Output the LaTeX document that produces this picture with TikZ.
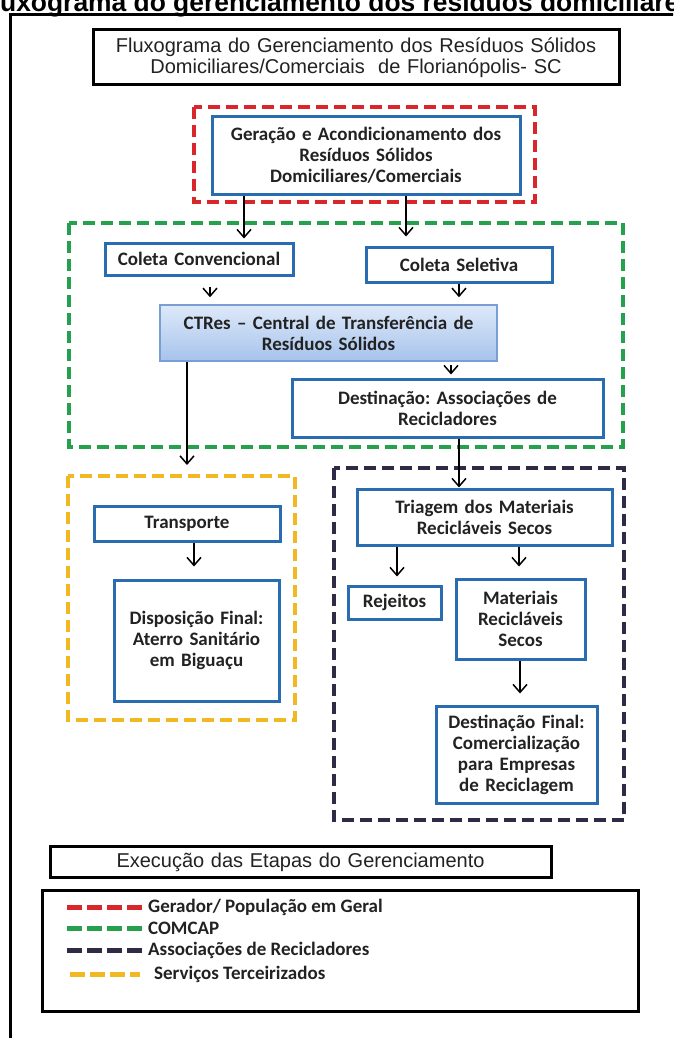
\documentclass[tikz,border=0pt]{standalone}
\usepackage{fontspec}
\setmainfont{Carlito}
\newfontfamily\arialfont{Liberation Sans}
\usetikzlibrary{arrows.meta,calc}
\frenchspacing
\definecolor{boxblue}{RGB}{42,108,176}
\definecolor{dashred}{RGB}{217,38,43}
\definecolor{dashgreen}{RGB}{37,160,76}
\definecolor{dashdark}{RGB}{46,43,71}
\definecolor{dashyellow}{RGB}{242,184,36}
\definecolor{txt}{RGB}{34,34,34}
\definecolor{ctrtop}{RGB}{222,233,249}
\definecolor{ctrbot}{RGB}{166,195,236}
\definecolor{ctredge}{RGB}{120,158,212}

\begin{document}
\begin{tikzpicture}[x=1pt,y=-1pt,
    blubox/.style={draw=boxblue,line width=3pt,text=txt,align=center,inner sep=0pt,
      font=\bfseries\fontsize{19}{21}\selectfont},
    blkbox/.style={draw=black,line width=3pt,text=txt,align=center,inner sep=0pt,
      font=\arialfont\fontsize{20}{21}\selectfont},
    grp/.style={line width=4pt,dash pattern=on 12pt off 6pt},
    leg/.style={line width=5pt,dash pattern=on 15pt off 5pt},
    >={Straight Barb[length=8pt,width=14pt]},
    arr/.style={->,line width=1.5pt}]
        \useasboundingbox (0,0) rectangle (673,1038);
        \clip (0,0) rectangle (673,1038);
        \fill[white] (0,0) rectangle (673,1038);
        % cut heading and outer frame
        \node[anchor=base west,inner sep=0pt,font=\arialfont\bfseries\fontsize{26.4}{28}\selectfont] (Z) at (-23.5,12) {Fluxograma do gerenciamento dos resíduos domiciliares};
        \draw[line width=3pt] (10,1040) -- (10,15) -- (680,15);
        \node[blkbox,text width=526pt,minimum height=55pt] (T) at (356,57.5) {Fluxograma do Gerenciamento dos Resíduos Sólidos\\Domiciliares/Comerciais\ \ de Florianópolis- SC};
        % groups
        \draw[grp,dashred] (194,107) rectangle (535,202);
        \draw[grp,dashgreen] (69,223) rectangle (623,447);
        \draw[grp,dashyellow] (68,476) rectangle (295,720);
        \draw[grp,dashdark] (334,468) rectangle (624,820);
        % steps
        \node[blubox,text width=308pt,minimum height=77pt] (A) at (366,155.5) {Geração e Acondicionamento dos\\Resíduos Sólidos\\Domiciliares/Comerciais};
        \node[blubox,text width=188pt,minimum height=32pt] (B) at (199,259) {Coleta Convencional};
        \node[blubox,text width=186pt,minimum height=35pt] (C) at (459,264.5) {Coleta Seletiva};
        \node[draw=ctredge,line width=1.5pt,top color=ctrtop,bottom color=ctrbot,text=txt,align=center,inner sep=0pt,
          font=\bfseries\fontsize{19}{21}\selectfont,text width=337pt,minimum height=56pt] (D) at (328.5,333) {CTRes – Central de Transferência de\\Resíduos Sólidos};
        \node[blubox,text width=311pt,minimum height=58pt] (E) at (447.5,408) {Destinação: Associações de\\Recicladores};
        \node[blubox,text width=186pt,minimum height=35pt] (F) at (187,523.5) {Transporte};
        \node[blubox,text width=165pt,minimum height=121pt] (G) at (196.5,640.5) {Disposição Final:\\Aterro Sanitário\\em Biguaçu};
        \node[blubox,text width=255pt,minimum height=56pt] (H) at (484.5,517) {Triagem dos Materiais\\Recicláveis Secos};
        \node[blubox,text width=93pt,minimum height=33pt] (I) at (394.5,602.5) {Rejeitos};
        \node[blubox,text width=129pt,minimum height=80pt] (J) at (520.5,619) {Materiais\\Recicláveis\\Secos};
        \node[blubox,text width=161pt,minimum height=97pt] (K) at (516.5,754.5) {Destinação Final:\\Comercialização\\para Empresas\\de Reciclagem};
        \coordinate (P) at (187,465);
        % flow
        \draw[arr,shorten >=3pt] (244,0 |- A.south) -- (244,0 |- B.north);
        \draw[arr,shorten >=9pt] (406,0 |- A.south) -- (406,0 |- C.north);
        \draw[arr,shorten <=10pt,shorten >=7pt] (210,0 |- B.south) -- (210,0 |- D.north);
        \draw[arr,shorten >=7pt] (459,0 |- C.south) -- (459,0 |- D.north);
        \draw[arr,shorten <=3pt,shorten >=3pt] (451,0 |- D.south) -- (451,0 |- E.north);
        \draw[arr] (187,0 |- D.south) -- (P);
        \draw[arr] (459,0 |- E.south) -- (459,0 |- H.north);
        \draw[arr,shorten >=12pt] (194,0 |- F.south) -- (194,0 |- G.north);
        \draw[arr,shorten >=8pt] (397,0 |- H.south) -- (397,0 |- I.north);
        \draw[arr,shorten >=11pt] (519,0 |- H.south) -- (519,0 |- J.north);
        \draw[arr,shorten >=11pt] (520,0 |- J.south) -- (520,0 |- K.north);
        % legend
        \node[blkbox,text width=501pt,minimum height=31pt] (L) at (300.5,862) {Execução das Etapas do Gerenciamento};
        \node[draw,line width=3pt,minimum width=596pt,minimum height=121pt,inner sep=0pt] (M) at (340,950.5) {};
        \draw[leg,dashred] (67,907) -- (142,907);
        \node[anchor=west,inner sep=0pt,text=txt,font=\bfseries\fontsize{19}{21}\selectfont] (L1) at (148,907) {Gerador/ População em Geral};
        \draw[leg,dashgreen] (67,928) -- (142,928);
        \node[anchor=west,inner sep=0pt,text=txt,font=\bfseries\fontsize{19}{21}\selectfont] (L2) at (148,928) {COMCAP};
        \draw[leg,dashdark] (67,950) -- (142,950);
        \node[anchor=west,inner sep=0pt,text=txt,font=\bfseries\fontsize{19}{21}\selectfont] (L3) at (148,950) {Associações de Recicladores};
        \draw[leg,dashyellow] (70,974) -- (140,974);
        \node[anchor=west,inner sep=0pt,text=txt,font=\bfseries\fontsize{19}{21}\selectfont] (L4) at (154,974) {Serviços Terceirizados};
\end{tikzpicture}
\end{document}
